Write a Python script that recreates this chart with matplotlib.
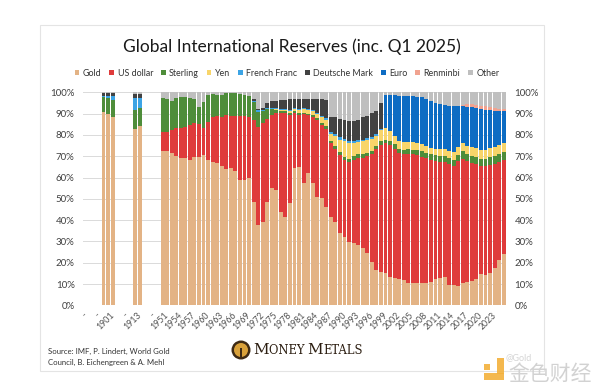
import numpy as np
import matplotlib
matplotlib.use('Agg')
from matplotlib import pyplot as plt
from matplotlib.patches import Rectangle, Ellipse

plt.rcParams['font.family'] = ['Lato', 'DejaVu Sans']

# categories on the x axis ('-' = empty slot between the data groups)
categories = (['-', '-', '-', '-', '1899', '1900', '1901', '-', '-', '-', '-', '1912', '1913',
               '-', '-', '-', '-'] + [str(y) for y in range(1950, 2026)])

years = [1899, 1900, 1901, 1912, 1913] + list(range(1950, 2026))

# shares in %
gold = [90.9, 89.9, 88.4, 82.8, 84.1,
        72.5, 72.3, 71.7, 70.1, 69.2, 69.0, 68.2, 69.5, 69.5, 70.4,
        68.2, 67.3, 67.0, 65.4, 63.8, 64.3, 63.0, 58.8, 59.0, 59.7,
        48.7, 37.7, 39.3, 48.7, 55.0, 54.1, 44.0, 41.6, 47.9, 64.3,
        64.8, 57.3, 62.0, 57.3, 51.0, 50.2, 46.3, 41.6, 39.3, 33.8,
        32.2, 29.9, 29.1, 28.3, 26.8, 24.4, 20.5, 16.6, 15.8, 15.0,
        13.5, 12.7, 12.2, 11.9, 10.3, 10.3, 10.3, 10.5, 10.3, 11.1,
        12.4, 12.7, 13.1, 9.5, 9.5, 9.2, 10.6, 11.1, 11.4, 12.2,
        14.6, 14.2, 15.3, 17.4, 21.3, 24.1]
us_dollar = [0, 0, 0, 0, 0,
             9.0, 8.9, 10.6, 13.0, 14.2, 14.9, 16.5, 15.9, 15.5, 12.7,
             18.0, 21.0, 21.9, 23.2, 25.6, 24.7, 26.0, 29.9, 29.7, 28.5,
             38.3, 45.8, 46.3, 38.9, 34.2, 36.2, 46.3, 48.7, 41.4, 26.0,
             24.7, 32.5, 27.3, 31.2, 36.0, 34.3, 36.7, 34.4, 34.2, 36.7,
             36.1, 37.4, 39.2, 40.9, 42.2, 45.6, 50.5, 56.7, 59.6, 61.2,
             61.9, 60.8, 59.3, 59.1, 60.9, 60.7, 60.2, 59.3, 58.7, 57.2,
             55.4, 54.6, 54.2, 57.0, 56.1, 58.6, 58.2, 56.7, 55.4, 54.1,
             50.7, 51.1, 50.7, 49.1, 46.0, 44.2]
sterling = [6.7, 7.3, 8.2, 9.0, 8.3,
            15.7, 15.8, 13.8, 14.1, 14.3, 13.8, 12.5, 11.3, 8.3, 12.5,
            12.5, 10.9, 10.0, 10.1, 10.4, 10.5, 10.5, 10.5, 10.2, 9.9,
            8.5, 7.2, 5.4, 4.5, 2.9, 1.6, 1.0, 0.9, 0.9, 0.7,
            0.7, 0.7, 0.7, 0.8, 1.0, 1.0, 1.0, 1.2, 1.3, 1.3,
            1.5, 1.6, 1.7, 1.8, 1.8, 1.6, 1.5, 1.5, 1.6, 1.6,
            1.6, 2.0, 2.0, 2.0, 2.0, 2.0, 2.3, 2.5, 2.5, 2.5,
            2.7, 2.9, 2.7, 2.8, 2.8, 2.9, 3.8, 3.2, 3.2, 3.3,
            3.4, 3.5, 3.6, 3.7, 3.7, 3.7]
yen = [0, 0, 0, 0, 0,
       0, 0, 0, 0, 0, 0, 0, 0, 0, 0,
       0, 0, 0, 0, 0, 0, 0, 0, 0, 0,
       0, 0, 0, 0, 0, 0.2, 0.5, 0.6, 1.0, 1.3,
       1.4, 1.5, 1.6, 1.7, 2.0, 2.8, 3.0, 3.3, 4.5, 6.0,
       7.2, 7.3, 6.2, 5.6, 6.2, 6.1, 5.8, 4.7, 5.4, 5.4,
       5.0, 4.0, 3.5, 3.5, 3.6, 3.6, 3.2, 3.3, 3.3, 3.0,
       3.0, 3.0, 3.2, 3.2, 3.4, 3.6, 3.6, 4.0, 4.2, 4.2,
       4.3, 4.2, 4.2, 4.3, 4.2, 4.0]
french_franc = [0.8, 1.2, 1.8, 5.3, 4.7,
                0, 0, 0, 0, 0, 0, 0, 0, 0, 0,
                0, 0, 0, 0, 0, 0, 0, 0, 0, 0,
                0.5, 1.1, 0.8, 0.5, 0.5, 0.3, 0.5, 0.4, 0.5, 0.5,
                0.5, 0.5, 0.4, 0.5, 0.5, 0.7, 0.7, 0.8, 0.9, 1.0,
                1.0, 1.0, 0.8, 0.8, 0.8, 0.8, 0.7, 0.7, 0.6, 0,
                0, 0, 0, 0, 0, 0, 0, 0, 0, 0,
                0, 0, 0, 0, 0, 0, 0, 0, 0, 0,
                0, 0, 0, 0, 0, 0]
deutsche_mark = [1.1, 1.1, 1.1, 2.0, 2.0,
                 0, 0, 0, 0, 0, 0, 0, 0, 0, 0,
                 0, 0, 0, 0, 0, 0, 0, 0, 0, 0,
                 1.0, 0.3, 0.8, 2.4, 3.1, 3.6, 3.9, 4.3, 5.1, 4.2,
                 4.9, 4.5, 5.0, 5.5, 6.5, 7.8, 8.8, 7.2, 8.0, 8.8,
                 9.0, 9.5, 9.7, 9.8, 10.4, 10.2, 11.3, 10.8, 12.0, 0,
                 0, 0, 0, 0, 0, 0, 0, 0, 0, 0,
                 0, 0, 0, 0, 0, 0, 0, 0, 0, 0,
                 0, 0, 0, 0, 0, 0]
euro = [0, 0, 0, 0, 0,
        0, 0, 0, 0, 0, 0, 0, 0, 0, 0,
        0, 0, 0, 0, 0, 0, 0, 0, 0, 0,
        0, 0, 0, 0, 0, 0, 0, 0, 0, 0,
        0, 0, 0, 0, 0, 0, 0, 0, 0, 0,
        0, 0, 0, 0, 0, 0, 0, 0, 0, 15.4,
        16.6, 19.0, 21.3, 21.7, 21.4, 21.6, 22.0, 22.2, 22.2, 22.2,
        21.5, 21.1, 20.7, 21.1, 21.6, 19.1, 17.2, 18.2, 18.8, 18.9,
        19.2, 18.8, 17.7, 16.8, 15.8, 15.0]
renminbi = [0, 0, 0, 0, 0,
            0, 0, 0, 0, 0, 0, 0, 0, 0, 0,
            0, 0, 0, 0, 0, 0, 0, 0, 0, 0,
            0, 0, 0, 0, 0, 0, 0, 0, 0, 0,
            0, 0, 0, 0, 0, 0, 0, 0, 0, 0,
            0, 0, 0, 0, 0, 0, 0, 0, 0, 0,
            0, 0, 0, 0, 0, 0, 0, 0, 0, 0,
            0, 0, 0, 0, 0, 0, 0.6, 1.2, 1.5, 1.5,
            1.6, 1.6, 1.5, 1.4, 1.3, 1.2]
other = [0.5, 0.5, 0.5, 0.9, 0.9,
         2.8, 3.0, 3.9, 2.8, 2.3, 2.3, 2.8, 3.3, 6.7, 4.4,
         1.3, 0.8, 1.1, 1.3, 0.2, 0.5, 0.5, 0.8, 1.1, 1.9,
         3.0, 7.9, 7.4, 5.0, 4.3, 4.0, 3.8, 3.5, 3.2, 3.0,
         3.0, 3.0, 3.0, 3.0, 3.0, 3.2, 3.5, 11.5, 11.8, 12.4,
         13.0, 13.3, 13.3, 12.8, 11.8, 11.3, 9.7, 9.0, 5.0, 1.4,
         1.4, 1.5, 1.7, 1.8, 1.8, 1.8, 2.0, 2.2, 3.0, 4.0,
         5.0, 5.7, 6.1, 6.4, 6.6, 6.6, 6.0, 5.6, 5.5, 5.8,
         6.2, 6.6, 7.0, 7.3, 7.7, 7.8]

series = [
    ('Gold', gold, '#E3B385'),
    ('US dollar', us_dollar, '#DF3B3B'),
    ('Sterling', sterling, '#4E8D3A'),
    ('Yen', yen, '#F8D56A'),
    ('French Franc', french_franc, '#3CA4E5'),
    ('Deutsche Mark', deutsche_mark, '#424242'),
    ('Euro', euro, '#0D6CC3'),
    ('Renminbi', renminbi, '#F1A390'),
    ('Other', other, '#BFBFBF'),
]

W, H = 600, 390
fig = plt.figure(figsize=(W / 100, H / 100), dpi=100)
fig.patch.set_facecolor('white')

# card frame
fig.add_artist(Rectangle((40 / W, 19 / H), 504 / W, 346 / H, transform=fig.transFigure,
                         fill=False, edgecolor='#E4E4E4', lw=0.8))

ax = fig.add_axes([83 / W, 84.7 / H, 423 / W, 213 / H])
pos = np.array([categories.index(str(y)) + 0.5 for y in years])
bottom = np.zeros(len(years))
for name, vals, col in series:
    ax.bar(pos, vals, width=0.86, bottom=bottom, color=col, label=name, linewidth=0, zorder=2)
    bottom += np.array(vals)

ax.set_xlim(0, len(categories))
ax.set_ylim(0, 100)
ax.set_yticks(np.arange(0, 101, 10))
ax.yaxis.set_major_formatter(lambda v, p: f'{v:.0f}%')
ax.grid(axis='y', color='#DADADA', lw=0.7, zorder=0)
ax.set_axisbelow(True)
for s in ax.spines.values():
    s.set_visible(False)
ax.tick_params(axis='y', length=0, labelleft=True, labelright=True, labelsize=7,
               labelcolor='#404040', pad=6)

ticks = np.arange(0, len(categories), 3)
ax.set_xticks(ticks + 0.5)
ax.set_xticklabels([categories[i] for i in ticks], rotation=45, ha='right', va='center',
                   rotation_mode='anchor', fontsize=6.3, color='#505050')
ax.tick_params(axis='x', length=0, pad=6)

fig.text(292 / W, 1 - 47 / H, 'Global International Reserves (inc. Q1 2025)',
         ha='center', va='center', fontsize=12.5, color='#1A1A1A')

handles, labels = ax.get_legend_handles_labels()
fig.legend(handles, labels, loc='center', bbox_to_anchor=(287 / W, 1 - 73 / H), ncol=9,
           frameon=False, fontsize=6.4, handlelength=0.55, handleheight=0.55,
           handletextpad=0.4, columnspacing=0.85, labelcolor='#333333')

fig.text(48 / W, 1 - 357 / H, 'Source: IMF, P. Lindert, World Gold\nCouncil, B. Eichengreen & A. Mehl',
         ha='left', va='center', fontsize=5.6, linespacing=1.6, color='#333333')

# Money Metals logo
fig.add_artist(Ellipse((241 / W, 1 - 350 / H), 19 / W, 19 / H, transform=fig.transFigure,
                       facecolor='#3E2A14', edgecolor='none'))
fig.add_artist(Ellipse((241 / W, 1 - 350 / H), 14 / W, 14 / H, transform=fig.transFigure,
                       facecolor='#D9A13A', edgecolor='none'))
fig.add_artist(Rectangle((240 / W, 1 - 357 / H), 2 / W, 9 / H, transform=fig.transFigure,
                         facecolor='#3E2A14', edgecolor='none'))
renderer = fig.canvas.get_renderer()
x = 253 / W
for txt, size in [('M', 11), ('ONEY ', 8.3), ('M', 11), ('ETALS', 8.3)]:
    t = fig.text(x, 1 - 354 / H, txt, ha='left', va='baseline', fontsize=size,
                 family='DejaVu Serif', color='#2B1D10')
    bb = t.get_window_extent(renderer)
    x += bb.width / W

# watermark
fig.add_artist(Rectangle((484 / W, 1 - 380 / H), 20 / W, 7 / H, transform=fig.transFigure,
                         facecolor='#F3B13B', edgecolor='none', alpha=0.9))
fig.add_artist(Rectangle((497 / W, 1 - 374 / H), 7 / W, 16 / H, transform=fig.transFigure,
                         facecolor='#F3B13B', edgecolor='none', alpha=0.9))
fig.add_artist(Rectangle((484 / W, 1 - 370 / H), 6 / W, 6 / H, transform=fig.transFigure,
                         facecolor='#F3B13B', edgecolor='none', alpha=0.9))
fig.text(506 / W, 1 - 358 / H, '@Gold', fontsize=6.5, color='#D5D5D5', va='center', ha='left')
fig.text(508 / W, 1 - 374 / H, '金色财经', fontsize=15, color='#D2D2D2', va='center', ha='left',
         family=['Noto Sans CJK SC', 'DejaVu Sans'])

fig.savefig('out.png', dpi=100)
